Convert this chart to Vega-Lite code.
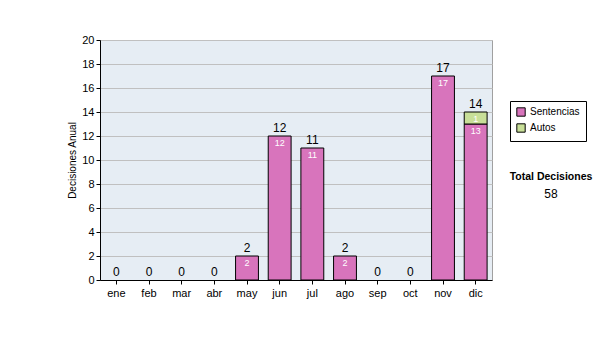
{
  "$schema": "https://vega.github.io/schema/vega-lite/v6.json",
  "width": 392,
  "height": 240,
  "autosize": "none",
  "padding": {"left": 100, "top": 40, "right": 108, "bottom": 60},
  "background": "white",
  "config": {
    "font": "Liberation Sans",
    "view": {"fill": "#e6edf4", "stroke": "#a0a0a0"}
  },
  "title": {
    "text": "Total Decisiones",
    "subtitle": "58",
    "orient": "top",
    "anchor": "start",
    "frame": "group",
    "align": "center",
    "dx": 451,
    "dy": 170,
    "fontSize": 10.5,
    "fontWeight": "bold",
    "color": "#000000",
    "subtitleFontSize": 12,
    "subtitleColor": "#000000",
    "subtitlePadding": 7
  },
  "data": {
    "values": [
      {"mes": "ene", "tipo": "Sentencias", "valor": 0},
      {"mes": "feb", "tipo": "Sentencias", "valor": 0},
      {"mes": "mar", "tipo": "Sentencias", "valor": 0},
      {"mes": "abr", "tipo": "Sentencias", "valor": 0},
      {"mes": "may", "tipo": "Sentencias", "valor": 2},
      {"mes": "jun", "tipo": "Sentencias", "valor": 12},
      {"mes": "jul", "tipo": "Sentencias", "valor": 11},
      {"mes": "ago", "tipo": "Sentencias", "valor": 2},
      {"mes": "sep", "tipo": "Sentencias", "valor": 0},
      {"mes": "oct", "tipo": "Sentencias", "valor": 0},
      {"mes": "nov", "tipo": "Sentencias", "valor": 17},
      {"mes": "dic", "tipo": "Sentencias", "valor": 13},
      {"mes": "ene", "tipo": "Autos", "valor": 0},
      {"mes": "feb", "tipo": "Autos", "valor": 0},
      {"mes": "mar", "tipo": "Autos", "valor": 0},
      {"mes": "abr", "tipo": "Autos", "valor": 0},
      {"mes": "may", "tipo": "Autos", "valor": 0},
      {"mes": "jun", "tipo": "Autos", "valor": 0},
      {"mes": "jul", "tipo": "Autos", "valor": 0},
      {"mes": "ago", "tipo": "Autos", "valor": 0},
      {"mes": "sep", "tipo": "Autos", "valor": 0},
      {"mes": "oct", "tipo": "Autos", "valor": 0},
      {"mes": "nov", "tipo": "Autos", "valor": 0},
      {"mes": "dic", "tipo": "Autos", "valor": 1}
    ]
  },
  "encoding": {
    "x": {
      "field": "mes",
      "type": "nominal",
      "sort": ["ene", "feb", "mar", "abr", "may", "jun", "jul", "ago", "sep", "oct", "nov", "dic"],
      "scale": {"paddingInner": 0.3, "paddingOuter": 0.15},
      "axis": {
        "title": null,
        "labelAngle": 0,
        "labelFontSize": 11,
        "labelColor": "#000000",
        "labelPadding": 3,
        "domainColor": "#000000",
        "tickColor": "#000000",
        "tickSize": 4,
        "grid": false
      }
    }
  },
  "layer": [
    {
      "transform": [{"filter": "datum.valor > 0"}],
      "mark": {"type": "bar", "stroke": "#000000", "strokeWidth": 1},
      "encoding": {
        "y": {
          "field": "valor",
          "type": "quantitative",
          "stack": "zero",
          "scale": {"domain": [0, 20], "nice": false},
          "axis": {
            "title": "Decisiones Anual",
            "titleFontSize": 10,
            "titleFontWeight": "normal",
            "titleColor": "#000000",
            "titlePadding": 4,
            "values": [0, 2, 4, 6, 8, 10, 12, 14, 16, 18, 20],
            "labelOverlap": false,
            "labelFontSize": 11,
            "labelColor": "#000000",
            "domainColor": "#000000",
            "tickColor": "#000000",
            "tickSize": 4,
            "gridColor": "#c0c0c0",
            "gridOpacity": 1
          }
        },
        "color": {
          "field": "tipo",
          "type": "nominal",
          "scale": {"domain": ["Sentencias", "Autos"], "range": ["#d874bc", "#c8df98"]},
          "legend": {
            "title": null,
            "orient": "none",
            "legendX": 410,
            "legendY": 61,
            "symbolType": "square",
            "symbolSize": 70,
            "symbolStrokeColor": "#000000",
            "symbolStrokeWidth": 1,
            "labelFontSize": 10,
            "labelColor": "#000000",
            "strokeColor": "#000000",
            "padding": 6,
            "rowPadding": 2
          }
        },
        "order": {"field": "tipo", "sort": "descending"}
      }
    },
    {
      "transform": [{"filter": "datum.valor > 0"}],
      "mark": {"type": "text", "baseline": "top", "dy": 3, "fontSize": 9, "color": "#ffffff"},
      "encoding": {
        "y": {
          "field": "valor",
          "type": "quantitative",
          "stack": "zero",
          "axis": {
            "title": "Decisiones Anual",
            "titleFontSize": 10,
            "titleFontWeight": "normal",
            "titleColor": "#000000",
            "titlePadding": 4,
            "values": [0, 2, 4, 6, 8, 10, 12, 14, 16, 18, 20],
            "labelOverlap": false,
            "labelFontSize": 11,
            "labelColor": "#000000",
            "domainColor": "#000000",
            "tickColor": "#000000",
            "tickSize": 4,
            "gridColor": "#c0c0c0",
            "gridOpacity": 1
          }
        },
        "detail": {"field": "tipo", "type": "nominal"},
        "order": {"field": "tipo", "sort": "descending"},
        "text": {"field": "valor", "type": "quantitative"},
        "color": {"value": "#ffffff"}
      }
    },
    {
      "transform": [{"aggregate": [{"op": "sum", "field": "valor", "as": "total"}], "groupby": ["mes"]}],
      "mark": {"type": "text", "baseline": "bottom", "dy": -1, "fontSize": 12, "color": "#000000"},
      "encoding": {
        "y": {
          "field": "total",
          "type": "quantitative",
          "axis": {
            "title": "Decisiones Anual",
            "titleFontSize": 10,
            "titleFontWeight": "normal",
            "titleColor": "#000000",
            "titlePadding": 4,
            "values": [0, 2, 4, 6, 8, 10, 12, 14, 16, 18, 20],
            "labelOverlap": false,
            "labelFontSize": 11,
            "labelColor": "#000000",
            "domainColor": "#000000",
            "tickColor": "#000000",
            "tickSize": 4,
            "gridColor": "#c0c0c0",
            "gridOpacity": 1
          }
        },
        "text": {"field": "total", "type": "quantitative"}
      }
    }
  ]
}
